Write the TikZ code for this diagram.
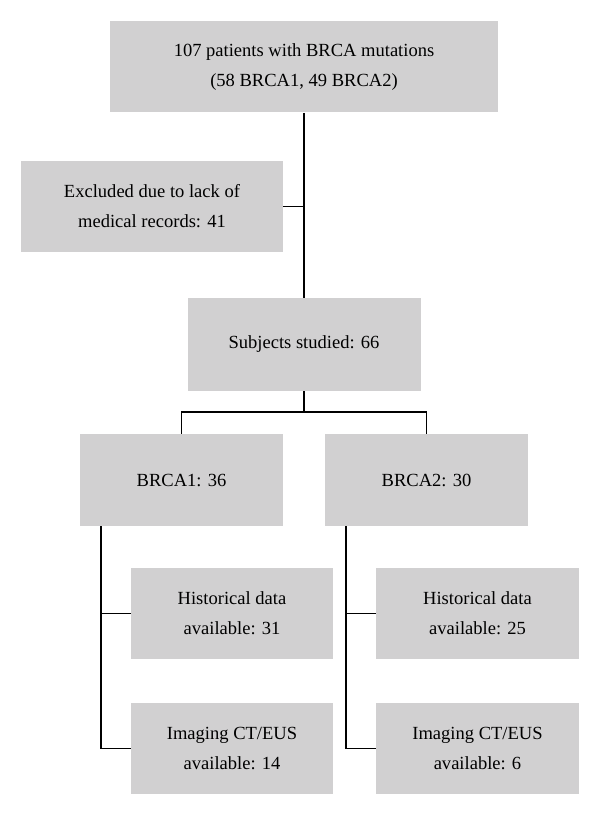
\documentclass[tikz,border=0pt]{standalone}
\usepackage{fontspec}
\setmainfont{Liberation Serif}
\definecolor{boxgray}{HTML}{D1D0D1}
\begin{document}
\begin{tikzpicture}[x=0.75pt,y=-0.75pt,
  box/.style={rectangle, fill=boxgray, draw=none, align=center, inner sep=0pt,
    font=\fontsize{13.9}{22.5}\selectfont},
  conn/.style={draw=black, line width=1.3pt}]
\useasboundingbox (0,0) rectangle (600,816);
\node[box, minimum width=388*0.75pt, minimum height=91*0.75pt] (top) at (304,67) {107 patients with BRCA mutations\\(58 BRCA1, 49 BRCA2)};
\node[box, minimum width=262*0.75pt, minimum height=91*0.75pt] (excl) at (152,206.5) {Excluded due to lack of\\medical records: 41};
\node[box, minimum width=233*0.75pt, minimum height=93*0.75pt] (subj) at (304,344.5) {Subjects studied: 66};
\node[box, minimum width=203*0.75pt, minimum height=92*0.75pt] (b1) at (181.5,480) {BRCA1: 36};
\node[box, minimum width=203*0.75pt, minimum height=92*0.75pt] (b2) at (426.5,480) {BRCA2: 30};
\node[box, minimum width=202*0.75pt, minimum height=91*0.75pt] (h1) at (232,613.5) {Historical data\\available: 31};
\node[box, minimum width=203*0.75pt, minimum height=91*0.75pt] (h2) at (477.5,613.5) {Historical data\\available: 25};
\node[box, minimum width=202*0.75pt, minimum height=91*0.75pt] (i1) at (232,748.5) {Imaging CT/EUS\\available: 14};
\node[box, minimum width=203*0.75pt, minimum height=91*0.75pt] (i2) at (477.5,748.5) {Imaging CT/EUS\\available: 6};
\coordinate (split) at (304,412);
\coordinate (b1s) at (101,526);
\coordinate (b2s) at (346,526);
\draw[conn] (top.south) -- (subj.north);
\draw[conn] (excl.east) -- (excl.east -| top.south);
\draw[conn] (subj.south) -- (split);
\draw[conn] (b1.north) |- (split) -| (b2.north);
\draw[conn] (b1s) |- (h1.west);
\draw[conn] (b1s) |- (i1.west);
\draw[conn] (b2s) |- (h2.west);
\draw[conn] (b2s) |- (i2.west);
\end{tikzpicture}
\end{document}
